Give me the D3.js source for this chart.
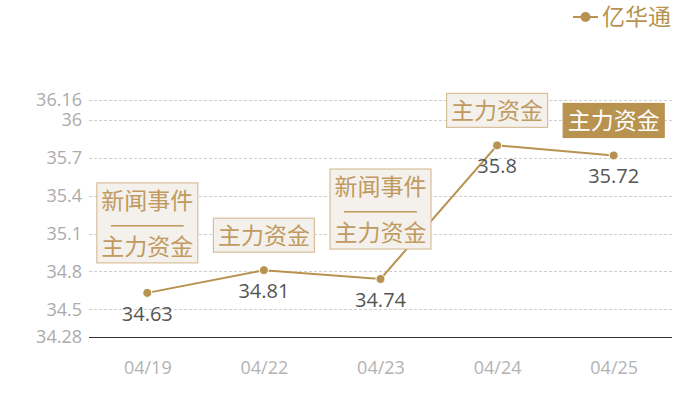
<!DOCTYPE html>
<html>
<head>
<meta charset="utf-8">
<script src="https://cdn.jsdelivr.net/npm/d3@7"></script>
<style>
  body { margin: 0; background: #fff; }
  svg { font-family: "Noto Sans CJK SC", "Noto Sans", sans-serif; }
</style>
</head>
<body>
<svg id="chart" width="700" height="400"></svg>
<script>
const dates = ["04/19", "04/22", "04/23", "04/24", "04/25"];
const prices = [34.63, 34.81, 34.74, 35.8, 35.72];
const yTicks = [34.28, 34.5, 34.8, 35.1, 35.4, 35.7, 36, 36.16];
const notes = [
    ["新闻事件", "——", "主力资金"],
    ["主力资金"],
    ["新闻事件", "——", "主力资金"],
    ["主力资金"],
    ["主力资金"]
];
const highlighted = [false, false, false, false, true];
const seriesName = "亿华通";

const gold = "#b8924f";
const margin = { top: 100, right: 28, bottom: 63, left: 89 };
const width = 700, height = 400;

const svg = d3.select("#chart");

const x = d3.scalePoint()
    .domain(dates)
    .range([margin.left, width - margin.right])
    .padding(0.5);

const y = d3.scaleLinear()
    .domain([34.28, 36.16])
    .range([height - margin.bottom, margin.top]);

// Grid
svg.append("g")
    .selectAll("line")
    .data(yTicks.slice(1))
    .join("line")
    .attr("x1", margin.left)
    .attr("x2", width - margin.right)
    .attr("y1", d => Math.round(y(d)) + 0.5)
    .attr("y2", d => Math.round(y(d)) + 0.5)
    .attr("stroke", "#cfcfcf")
    .attr("stroke-dasharray", "3,2");

// Y axis labels
const yAxis = svg.append("g")
    .attr("transform", `translate(${margin.left},0)`)
    .call(d3.axisLeft(y).tickValues(yTicks).tickSize(0).tickPadding(7).tickFormat(d => String(d)));
yAxis.select(".domain").remove();
yAxis.selectAll("text")
    .attr("fill", "#ababab")
    .style("font-size", "18px")
    .style("font-family", "'Open Sans', 'Noto Sans', sans-serif");

// X axis
const xAxis = svg.append("g")
    .attr("transform", `translate(0,${height - margin.bottom})`)
    .call(d3.axisBottom(x).tickSize(0).tickPadding(24));
xAxis.select(".domain")
    .attr("stroke", "#333")
    .attr("stroke-width", 1)
    .attr("d", `M${margin.left},0.5H${width - margin.right}`);
xAxis.selectAll("text")
    .attr("fill", "#b3b3b3")
    .style("font-size", "18px")
    .style("font-family", "'Open Sans', 'Noto Sans', sans-serif");

// Line
const line = d3.line()
    .x((d, i) => x(dates[i]))
    .y(d => y(d));

svg.append("path")
    .datum(prices)
    .attr("d", line)
    .attr("fill", "none")
    .attr("stroke", gold)
    .attr("stroke-width", 2);

svg.append("g")
    .selectAll("circle")
    .data(prices)
    .join("circle")
    .attr("cx", (d, i) => x(dates[i]))
    .attr("cy", d => y(d))
    .attr("r", 4.5)
    .attr("fill", gold)
    .attr("stroke", "#fff")
    .attr("stroke-width", 1);

// Value labels
svg.append("g")
    .selectAll("text")
    .data(prices)
    .join("text")
    .attr("x", (d, i) => x(dates[i]))
    .attr("y", d => y(d) + 28)
    .attr("text-anchor", "middle")
    .attr("fill", "#555")
    .style("font-size", "20px")
    .style("font-family", "'Open Sans', 'Noto Sans', sans-serif")
    .text(d => d);

// Annotation boxes
const lineH = 23, boxW = 101;
const ann = svg.append("g")
    .selectAll("g")
    .data(notes)
    .join("g")
    .attr("transform", (d, i) => {
        const h = d.length * lineH + 11;
        const gap = d.length > 1 ? 30 : 18;
        return `translate(${x(dates[i]) - boxW / 2},${y(prices[i]) - gap - h})`;
    });

ann.append("rect")
    .attr("width", boxW)
    .attr("height", d => d.length * lineH + 11)
    .attr("fill", (d, i) => highlighted[i] ? gold : "#f4f0eb")
    .attr("stroke", (d, i) => highlighted[i] ? gold : "#d8bf9c")
    .attr("stroke-width", 1.2);

ann.each(function(d, i) {
    d3.select(this).selectAll("text")
        .data(d)
        .join("text")
        // the dash row is stretched sideways to span the box like the reference
        .attr("transform", (s, j) => `translate(${boxW / 2},${6 + lineH * j + lineH / 2})` +
            (s === "——" ? " scale(2,1)" : ""))
        .attr("dy", "0.36em")
        .attr("text-anchor", "middle")
        .attr("fill", highlighted[i] ? "#fff" : "#c09a60")
        .style("font-size", "23px")
        .text(s => s);
});

// Legend
const legend = svg.append("g").attr("transform", "translate(573,17)");
legend.append("line")
    .attr("x1", 0).attr("x2", 25)
    .attr("stroke", gold).attr("stroke-width", 2);
legend.append("circle")
    .attr("cx", 12.5).attr("r", 5)
    .attr("fill", gold);
legend.append("text")
    .attr("x", 29)
    .attr("dy", "0.36em")
    .attr("fill", gold)
    .style("font-size", "23px")
    .text(seriesName);
</script>
</body>
</html>
